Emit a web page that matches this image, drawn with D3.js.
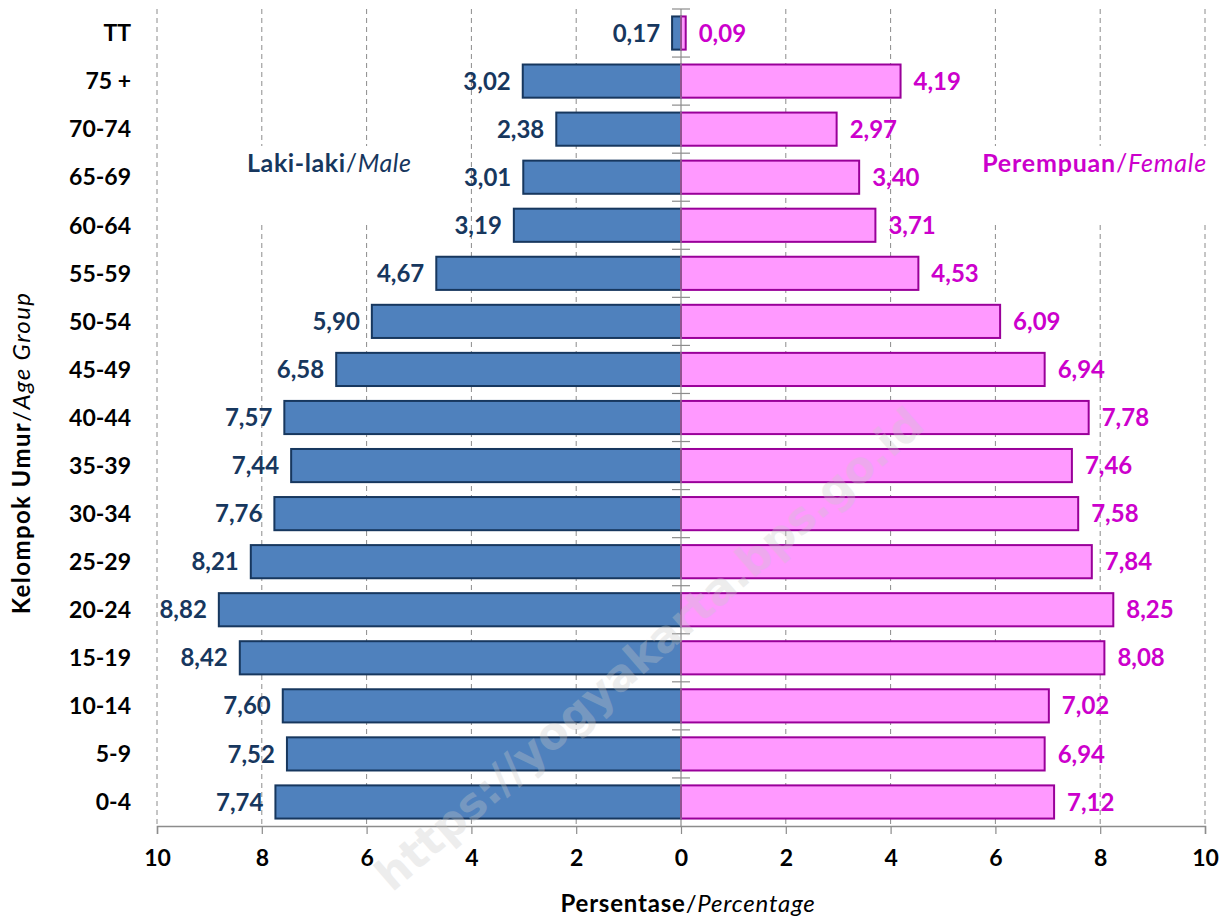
<!DOCTYPE html>
<html><head><meta charset="utf-8">
<script src="https://cdn.jsdelivr.net/npm/d3@7"></script>
<style>body{margin:0;background:#fff}svg{display:block}</style>
</head><body>
<svg id="c" width="1230" height="920"></svg>
<script>
const categories = ["TT","75 +","70-74","65-69","60-64","55-59","50-54","45-49","40-44","35-39","30-34","25-29","20-24","15-19","10-14","5-9","0-4"];
const maleValues = [0.17,3.02,2.38,3.01,3.19,4.67,5.90,6.58,7.57,7.44,7.76,8.21,8.82,8.42,7.60,7.52,7.74];
const femaleValues = [0.09,4.19,2.97,3.40,3.71,4.53,6.09,6.94,7.78,7.46,7.58,7.84,8.25,8.08,7.02,6.94,7.12];
const xTicks = [-10,-8,-6,-4,-2,0,2,4,6,8,10];
const tickLabels = ["10","8","6","4","2","0","2","4","6","8","10"];

const FONT = "Lato, 'Open Sans', sans-serif";
const svg = d3.select("#c");
const x = d3.scaleLinear().domain([-10,10]).range([157,1205]);
const y = d3.scaleBand().domain(categories).range([9,826]).paddingInner(0.31).paddingOuter(0.155);
const fmt = v => v.toFixed(2).replace(".", ",");

// gridlines
svg.append("g").selectAll("line").data(xTicks.filter(d=>d!==0)).join("line")
  .attr("x1",d=>x(d)).attr("x2",d=>x(d)).attr("y1",9).attr("y2",826)
  .attr("stroke","#8c8c8c").attr("stroke-width",1).attr("stroke-dasharray","5,4");

// label boxes (white background over gridlines)
svg.append("rect").attr("x",240).attr("y",146).attr("width",178).attr("height",78).attr("fill","#fff");
svg.append("rect").attr("x",972).attr("y",146).attr("width",245).attr("height",78).attr("fill","#fff");

// bars
svg.append("g").selectAll("rect").data(categories).join("rect")
  .attr("x",(d,i)=>x(-maleValues[i])).attr("width",(d,i)=>x(0)-x(-maleValues[i]))
  .attr("y",d=>y(d)).attr("height",y.bandwidth())
  .attr("fill","#4F81BD").attr("stroke","#17375E").attr("stroke-width",2);
svg.append("g").selectAll("rect").data(categories).join("rect")
  .attr("x",x(0)).attr("width",(d,i)=>x(femaleValues[i])-x(0))
  .attr("y",d=>y(d)).attr("height",y.bandwidth())
  .attr("fill","#FF99FF").attr("stroke","#990099").attr("stroke-width",2);

// center axis
svg.append("line").attr("x1",x(0)).attr("x2",x(0)).attr("y1",9).attr("y2",826).attr("stroke","#8c8c8c").attr("stroke-width",1.2);
const bounds = categories.map(d=>y(d)-y.step()*y.paddingInner()/2);
svg.append("g").selectAll("line").data(bounds).join("line")
  .attr("x1",x(0)-9).attr("x2",x(0)+9).attr("y1",d=>d).attr("y2",d=>d)
  .attr("stroke","#8c8c8c").attr("stroke-width",1.2);

// x axis
const xa = svg.append("g").attr("transform","translate(0,826)")
  .call(d3.axisBottom(x).tickValues(xTicks).tickSize(8).tickFormat((d,i)=>tickLabels[i]));
xa.select(".domain").attr("stroke","#8c8c8c").attr("stroke-width",1.5);
xa.selectAll(".tick line").attr("stroke","#8c8c8c").attr("stroke-width",1.2);
xa.selectAll(".tick text").attr("font-family",FONT).attr("font-weight","bold").attr("font-size",23).attr("fill","#000").attr("dy","1.25em");

// category labels
svg.append("g").selectAll("text").data(categories).join("text")
  .attr("x",131).attr("y",d=>y(d)+y.bandwidth()/2).attr("dy","0.36em")
  .attr("text-anchor","end").attr("font-family",FONT).attr("font-weight","bold").attr("font-size",23).attr("fill","#000")
  .text(d=>d);

// value labels
svg.append("g").selectAll("text").data(categories).join("text")
  .attr("x",(d,i)=>x(-maleValues[i])-12).attr("y",d=>y(d)+y.bandwidth()/2).attr("dy","0.36em")
  .attr("text-anchor","end").attr("font-family",FONT).attr("font-weight","bold").attr("font-size",24).attr("fill","#17375E")
  .text((d,i)=>fmt(maleValues[i]));
svg.append("g").selectAll("text").data(categories).join("text")
  .attr("x",(d,i)=>x(femaleValues[i])+13).attr("y",d=>y(d)+y.bandwidth()/2).attr("dy","0.36em")
  .attr("text-anchor","start").attr("font-family",FONT).attr("font-weight","bold").attr("font-size",24).attr("fill","#CC00CC")
  .text((d,i)=>fmt(femaleValues[i]));

// series labels
const ml = svg.append("text").attr("x",247).attr("y",172).attr("font-family",FONT).attr("font-size",25).attr("letter-spacing",0.6).attr("fill","#17375E");
ml.append("tspan").attr("font-weight","bold").text("Laki-laki");
ml.append("tspan").text("/");
ml.append("tspan").attr("font-style","italic").text("Male");
const fl = svg.append("text").attr("x",1207).attr("y",172).attr("text-anchor","end").attr("font-family",FONT).attr("font-size",25).attr("letter-spacing",0.8).attr("fill","#CC00CC");
fl.append("tspan").attr("font-weight","bold").text("Perempuan");
fl.append("tspan").text("/");
fl.append("tspan").attr("font-style","italic").text("Female");

// axis titles
const xt = svg.append("text").attr("x",688).attr("y",912).attr("text-anchor","middle").attr("font-family",FONT).attr("font-size",24).attr("letter-spacing",0.8).attr("fill","#000");
xt.append("tspan").attr("font-weight","bold").text("Persentase");
xt.append("tspan").text("/");
xt.append("tspan").attr("font-style","italic").text("Percentage");
const yt = svg.append("text").attr("transform","translate(30,453) rotate(-90)").attr("text-anchor","middle").attr("font-family",FONT).attr("font-size",24).attr("letter-spacing",1.4).attr("fill","#000");
yt.append("tspan").attr("font-weight","bold").text("Kelompok Umur");
yt.append("tspan").text("/");
yt.append("tspan").attr("font-style","italic").text("Age Group");

// watermark (semi-transparent overlay)
svg.append("text").attr("transform","translate(392,893) rotate(-41)")
  .attr("font-family","'DejaVu Sans', Arial, sans-serif").attr("font-weight","bold").attr("font-size",44)
  .attr("fill","#c8c8c8").attr("opacity",0.32).text("https://yogyakarta.bps.go.id");
</script>
</body></html>
